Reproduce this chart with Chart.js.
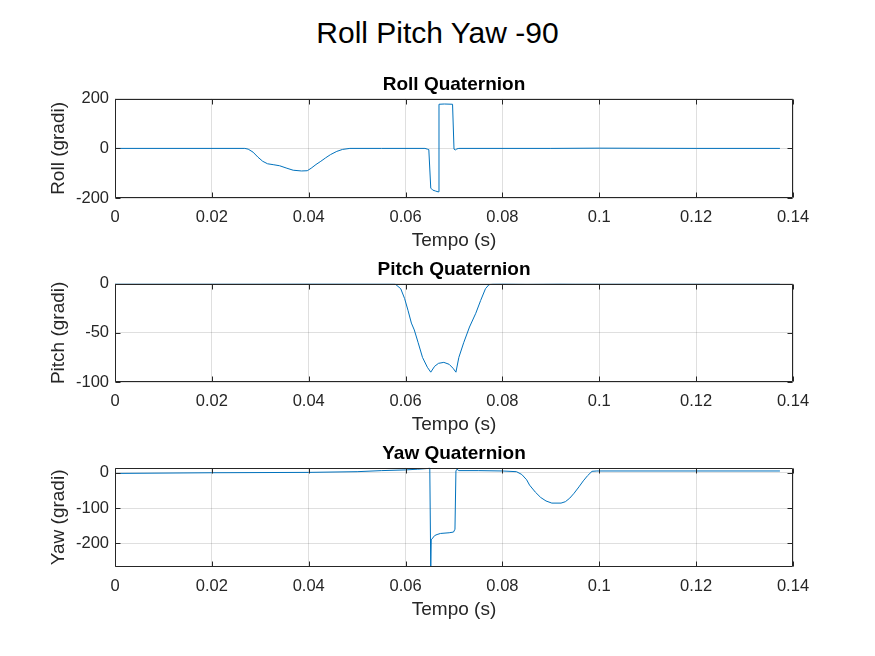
<!DOCTYPE html>
<html><head><meta charset="utf-8">
<script src="https://cdn.jsdelivr.net/npm/chart.js@4.4.1/dist/chart.umd.min.js"></script>
<style>
html,body{margin:0;padding:0;background:#fff;width:875px;height:656px;overflow:hidden;}
#title{position:absolute;left:0;top:14px;width:875px;text-align:center;font-family:"Liberation Sans",Arial,Helvetica,sans-serif;font-size:30px;line-height:38px;color:#000;}
canvas{position:absolute;left:0;}
</style></head><body>
<div id="title">Roll Pitch Yaw -90</div>
<canvas id="c1" width="875" height="187" style="top:67px"></canvas>
<canvas id="c2" width="875" height="186" style="top:252px"></canvas>
<canvas id="c3" width="875" height="187" style="top:436px"></canvas>
<script>
// ---- data ----
const xTicks = [0, 0.02, 0.04, 0.06, 0.08, 0.1, 0.12, 0.14];
const xTickLabels = ['0', '0.02', '0.04', '0.06', '0.08', '0.1', '0.12', '0.14'];

const rollTicks = [-200, 0, 200];
const rollTickLabels = ['-200', '0', '200'];
const pitchTicks = [-100, -50, 0];
const pitchTickLabels = ['-100', '-50', '0'];
const yawTicks = [-200, -100, 0];
const yawTickLabels = ['-200', '-100', '0'];

const rollT = [0, 0.0268, 0.0275, 0.0285, 0.0295, 0.0305, 0.0315, 0.0328, 0.034, 0.0355, 0.0368, 0.0385, 0.0397, 0.0405, 0.0415, 0.0425, 0.0435, 0.0445, 0.0458, 0.047, 0.0485, 0.055, 0.064, 0.0645, 0.0648, 0.0652, 0.0656, 0.0662, 0.0667, 0.0669, 0.068, 0.0697, 0.07, 0.0703, 0.0706, 0.071, 0.09, 0.1, 0.12, 0.1373];
const rollV = [0, 0, -3, -15, -35, -52, -62, -66, -70, -80, -88, -91, -90, -80, -65, -52, -38, -25, -12, -4, 0, 0, 0, -3, -5, -160, -168, -172, -175, 178, 179, 178, -3, -6, -2, 0, 0, 1, 0, 0];

const pitchT = [0, 0.03, 0.0578, 0.059, 0.0598, 0.0605, 0.0612, 0.0618, 0.0626, 0.0635, 0.0645, 0.0652, 0.066, 0.0668, 0.0679, 0.069, 0.0698, 0.0704, 0.071, 0.072, 0.0732, 0.0745, 0.0755, 0.0765, 0.0772, 0.078, 0.085, 0.095, 0.1373];
const pitchV = [0.5, 0.5, 0, -5, -15, -27, -40, -47, -60, -75, -85, -90, -84, -81, -80, -82, -86, -90, -75, -60, -44, -30, -17, -5, -1, 0, 1, 0, 0];

const yawT = [0, 0.02, 0.04, 0.05, 0.055, 0.06, 0.0625, 0.0645, 0.065, 0.0652, 0.0653, 0.0656, 0.066, 0.0665, 0.0672, 0.069, 0.0699, 0.0702, 0.0704, 0.0706, 0.071, 0.075, 0.08, 0.0829, 0.084, 0.085, 0.0856, 0.0868, 0.0879, 0.089, 0.0902, 0.0921, 0.093, 0.0939, 0.0948, 0.0958, 0.0967, 0.0976, 0.0985, 0.0995, 0.1373];
const yawV = [-2, 0, 1, 3, 6, 8, 10, 12, 14, -270, -190, -185, -178, -175, -172, -170, -168, -160, 5, 10, 6, 6, 5, 3, -5, -20, -35, -55, -70, -80, -86, -86, -82, -72, -58, -40, -23, -8, 4, 5, 5];

// ---- styling ----
const F = '"Liberation Sans", Arial, Helvetica, sans-serif';
const AX = '#262626';
const GRID = 'rgba(38,38,38,0.15)';
const LINE = '#0072BD';

const boxPlugin = {
  id: 'matlabBox',
  afterDraw(chart) {
    const {ctx, chartArea: a, scales} = chart;
    const x = scales.x, y = scales.y;
    ctx.save();
    ctx.strokeStyle = AX;
    ctx.lineWidth = 1;
    const L = Math.round(a.left) + 0.5, R = Math.round(a.right) - 0.5;
    const T = Math.round(a.top) + 0.5, B = Math.round(a.bottom) - 0.5;
    ctx.beginPath();
    ctx.rect(L, T, R - L, B - T);
    const tl = 5;
    x.ticks.forEach(t => {
      const px = Math.round(x.getPixelForValue(t.value)) + 0.5;
      ctx.moveTo(px, B); ctx.lineTo(px, B - tl);
      ctx.moveTo(px, T); ctx.lineTo(px, T + tl);
    });
    y.ticks.forEach(t => {
      const py = Math.round(y.getPixelForValue(t.value)) + 0.5;
      ctx.moveTo(L, py); ctx.lineTo(L + tl, py);
      ctx.moveTo(R, py); ctx.lineTo(R - tl, py);
    });
    ctx.stroke();
    ctx.restore();
  }
};

function makeChart(id, title, yLabel, tArr, vArr, yMin, yMax, yTicks, yTickLabels) {
  const pts = tArr.map((t, i) => ({x: t, y: vArr[i]}));
  return new Chart(document.getElementById(id), {
    type: 'line',
    data: {datasets: [{data: pts, borderColor: LINE, borderWidth: 1, pointRadius: 0, tension: 0, fill: false}]},
    plugins: [boxPlugin],
    options: {
      responsive: false,
      animation: false,
      devicePixelRatio: 1,
      layout: {padding: {left: 0, right: 82, top: 0, bottom: 0}},
      plugins: {
        legend: {display: false},
        tooltip: {enabled: false},
        title: {display: true, text: title, color: '#000', fullSize: false,
          font: {family: F, size: 19, weight: 'bold', lineHeight: 1.2},
          padding: {top: 6, bottom: 3}}
      },
      scales: {
        x: {
          type: 'linear', min: 0, max: 0.14,
          afterBuildTicks: s => { s.ticks = xTicks.map(v => ({value: v})); },
          afterFit: s => { s.height = 56; },
          grid: {color: GRID, drawTicks: false},
          border: {display: false},
          ticks: {color: AX, font: {family: F, size: 16.5}, padding: 10, maxRotation: 0, autoSkip: false,
            callback: v => xTickLabels[xTicks.indexOf(v)]},
          title: {display: true, text: 'Tempo (s)', color: AX, font: {family: F, size: 19}, padding: {top: 0, bottom: 2}}
        },
        y: {
          type: 'linear', min: yMin, max: yMax,
          afterBuildTicks: s => { s.ticks = yTicks.map(v => ({value: v})); },
          afterFit: s => { s.width = 115; },
          grid: {color: GRID, drawTicks: false},
          border: {display: false},
          ticks: {color: AX, font: {family: F, size: 16.5}, padding: 6, autoSkip: false,
            callback: v => yTickLabels[yTicks.indexOf(v)]},
          title: {display: true, text: yLabel, color: AX, font: {family: F, size: 19}, padding: {top: 47, bottom: 0}}
        }
      }
    }
  });
}

makeChart('c1', 'Roll Quaternion', 'Roll (gradi)', rollT, rollV, -200, 200, rollTicks, rollTickLabels);
makeChart('c2', 'Pitch Quaternion', 'Pitch (gradi)', pitchT, pitchV, -100, 0, pitchTicks, pitchTickLabels);
makeChart('c3', 'Yaw Quaternion', 'Yaw (gradi)', yawT, yawV, -267, 14, yawTicks, yawTickLabels);
</script>
</body></html>
